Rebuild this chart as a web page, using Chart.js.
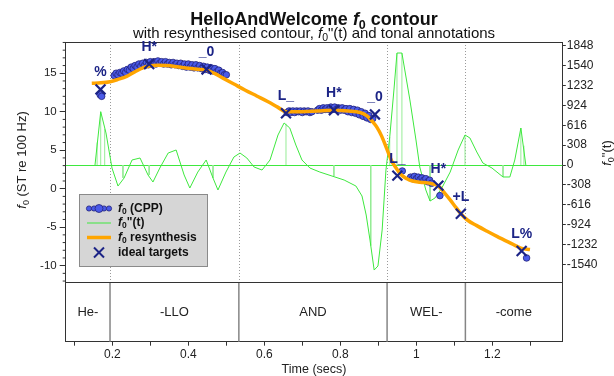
<!DOCTYPE html>
<html>
<head>
<meta charset="utf-8">
<script src="https://cdn.jsdelivr.net/npm/chart.js@4.4.1/dist/chart.umd.min.js"></script>
<style>
html,body{margin:0;padding:0;background:#ffffff;}
#wrap{width:614px;height:376px;}
</style>
</head>
<body>
<div id="wrap"><canvas id="c" width="614" height="376"></canvas></div>
<script>
const FONT = "'Liberation Sans', Arial, Helvetica, sans-serif";

// ---- annotation tier (words) ----
const tierBounds = [0.194, 0.533, 0.923, 1.129];
const tierLabels = ['He-', '-LLO', 'AND', 'WEL-', '-come'];

// ---- axis ticks ----
const xTickValues = [0.1, 0.2, 0.3, 0.4, 0.5, 0.6, 0.7, 0.8, 0.9, 1.0, 1.1, 1.2, 1.3];
const xTickLabels = ['', '0.2', '', '0.4', '', '0.6', '', '0.8', '', '1', '', '1.2', ''];
const leftTickValues = [-10, -5, 0, 5, 10, 15];
const leftTickLabels = ['-10', '-5', '0', '5', '10', '15'];
const leftMinorTicks = [-12, -11, -9, -8, -7, -6, -4, -3, -2, -1, 1, 2, 3, 4, 6, 7, 8, 9, 11, 12, 13, 14, 16, 17, 18, 19];
const rightTickValues = [1848, 1540, 1232, 924, 616, 308, 0, -308, -616, -924, -1232, -1540];
const rightTickLabels = ['1848', '1540', '1232', '924', '616', '308', '0', '-308', '-616', '-924', '-1232', '-1540'];

// ---- axis ranges ----
const X_MIN = 0.0774, X_MAX = 1.384;
const F0_MIN = -19.88, F0_MAX = 19.06, F0_PANEL_MIN = -12.16;
const D2_MIN = -2742, D2_MAX = 1909;

// ---- f0 (CPP) samples ----
const cppTimes = [
  0.168, 0.172,
  0.205, 0.210, 0.215, 0.220, 0.225, 0.230, 0.235, 0.240, 0.245, 0.250,
  0.255, 0.260, 0.265, 0.270, 0.275, 0.280, 0.285, 0.290, 0.295, 0.300,
  0.305, 0.310, 0.315, 0.320, 0.325, 0.330, 0.335, 0.340, 0.345, 0.350,
  0.355, 0.360, 0.365, 0.370, 0.375, 0.380, 0.385, 0.390, 0.395, 0.400,
  0.405, 0.410, 0.415, 0.420, 0.425, 0.430, 0.435, 0.440, 0.445, 0.450,
  0.455, 0.460, 0.465, 0.470, 0.475, 0.480, 0.485, 0.490, 0.495, 0.500,
  0.660, 0.665, 0.670, 0.675, 0.680, 0.685, 0.690, 0.695, 0.700, 0.705,
  0.710, 0.715, 0.720, 0.725, 0.740, 0.745, 0.750, 0.755, 0.760, 0.765,
  0.770, 0.775, 0.780, 0.785, 0.790, 0.795, 0.800, 0.805, 0.810, 0.815,
  0.820, 0.825, 0.830, 0.835, 0.840, 0.845, 0.850, 0.855, 0.860, 0.865,
  0.870, 0.875, 0.880, 0.885,
  0.963,
  0.985, 0.990, 0.995, 1.000, 1.005, 1.010, 1.015, 1.020, 1.025, 1.030, 1.035, 1.040,
  1.062, 1.290
];
const cppValues = [
  12.2, 12.0,
  14.7, 15.0, 14.8, 15.1, 15.0, 15.3, 15.1, 15.5, 15.4, 15.8,
  15.6, 16.0, 15.8, 16.2, 15.9, 16.3, 16.0, 16.4, 16.1, 16.5,
  16.2, 16.5, 16.2, 16.6, 16.3, 16.5, 16.2, 16.5, 16.2, 16.4,
  16.1, 16.4, 16.1, 16.3, 16.0, 16.3, 15.9, 16.2, 15.8, 16.2,
  15.8, 16.1, 15.7, 16.1, 15.7, 16.0, 15.6, 15.9, 15.5, 15.8,
  15.4, 15.7, 15.3, 15.6, 15.2, 15.4, 15.0, 15.1, 14.8, 14.8,
  9.9, 10.1, 9.9, 10.1, 9.9, 10.1, 10.0, 10.1, 9.9, 10.1,
  10.0, 10.1, 9.9, 10.0, 10.2, 10.4, 10.2, 10.5, 10.3, 10.5,
  10.3, 10.6, 10.3, 10.6, 10.3, 10.5, 10.2, 10.5, 10.2, 10.4,
  10.0, 10.4, 9.9, 10.3, 9.8, 10.2, 9.6, 10.0, 9.4, 9.8,
  9.2, 9.5, 9.0, 9.1,
  2.3,
  1.5, 1.3, 1.6, 1.3, 1.5, 1.2, 1.4, 1.1, 1.3, 0.9, 1.1, 0.7,
  -0.9, -9.0
];

// ---- f0 resynthesis ----
const resTimes = [
  0.146, 0.170, 0.194, 0.215, 0.238, 0.260, 0.280, 0.297, 0.320, 0.343,
  0.370, 0.400, 0.430, 0.448, 0.470, 0.490, 0.520, 0.550, 0.580, 0.610,
  0.635, 0.657, 0.680, 0.700, 0.740, 0.783, 0.820, 0.852, 0.870, 0.885,
  0.896, 0.909, 0.922, 0.935, 0.948, 0.960, 0.975, 0.990, 1.010, 1.036,
  1.058, 1.075, 1.089, 1.105, 1.117, 1.135, 1.159, 1.185, 1.212, 1.245,
  1.277, 1.299
];
const resValues = [
  13.7, 13.75, 13.9, 14.2, 14.6, 15.2, 15.7, 15.95, 16.05, 16.0,
  15.85, 15.65, 15.5, 15.4, 14.95, 14.4, 13.6, 12.8, 12.05, 11.3,
  10.6, 10.0, 10.0, 10.0, 10.1, 10.2, 10.1, 9.9, 9.45, 8.7,
  8.0, 6.8, 5.2, 3.6, 2.6, 1.8, 1.3, 1.0, 0.85, 0.7,
  0.35, -0.6, -1.45, -2.5, -3.25, -4.1, -4.8, -5.5, -6.2, -7.0,
  -7.75, -7.9
];

// ---- f0''(t) ----
const d2Times = [
  0.1545, 0.1695, 0.1834, 0.1992, 0.215, 0.231, 0.252, 0.273, 0.294, 0.307,
  0.325, 0.347, 0.368, 0.389, 0.404, 0.425, 0.447, 0.465, 0.478, 0.499,
  0.520, 0.536, 0.554, 0.573, 0.594, 0.615, 0.636, 0.652, 0.667, 0.683,
  0.699, 0.720, 0.746, 0.778, 0.810, 0.841, 0.857, 0.868, 0.878, 0.889,
  0.899, 0.910, 0.920, 0.930, 0.941, 0.949, 0.962, 0.983, 0.999, 1.009,
  1.025, 1.036, 1.049, 1.067, 1.089, 1.110, 1.128, 1.141, 1.159, 1.175,
  1.199, 1.228, 1.246, 1.259, 1.275, 1.288
];
const d2Values = [
  0, 827, 497, -47, -326, -202, 78, 109, -155, -264,
  -47, 186, 233, -155, -357, -109, 78, -202, -388, -109,
  124, 186, 109, -31, -78, 78, 466, 652, 574, 310,
  78, -47, -109, -171, -233, -326, -481, -776, -1164, -1630,
  -1567, -1009, -78, 435, 1164, 1738, 1738, 1009, 388, -31,
  -388, -559, -512, -357, -109, 233, 466, 419, 202, 31,
  -47, -186, -186, 78, 574, 0
];
// stems of f0''(t) at sampled instants
const stemTimes = [0.160, 0.1695, 0.180, 0.228, 0.297, 0.465, 0.657, 0.783, 0.880, 0.930, 0.949, 0.962, 1.036, 1.128, 1.228, 1.275, 1.283];
const stemValues = [350, 827, 560, -200, -155, -202, 640, -171, -1250, 435, 1738, 1738, -559, 466, -186, 574, 300];

// ---- ideal targets ----
const targetTimes = [0.169, 0.297, 0.448, 0.657, 0.783, 0.891, 0.950, 1.058, 1.117, 1.277];
const targetValues = [12.9, 16.2, 15.5, 9.8, 10.2, 9.65, 1.7, 0.4, -3.25, -8.1];
const targetLabels = ['%', 'H*', '_0', 'L_', 'H*', '_0', 'L_', 'H*', '+L', 'L%'];

// ---- colours ----
const C_ORANGE = '#ffa500', C_GREEN = '#3ee83e', C_STEM = '#96ec96';
const C_DOT = '#4a5ae8', C_DOT_EDGE = '#23237a', C_NAVY = '#1c2486';

const xy = (ts, vs) => ts.map((t, i) => ({x: t, y: vs[i]}));
const stemData = [];
stemTimes.forEach((t, i) => { stemData.push({x: t, y: 0}, {x: t, y: stemValues[i]}, {x: t, y: null}); });

function drawRuns(ctx, parts, x, y, align) {
  let w = 0;
  parts.forEach(p => { ctx.font = p.f; p.w = ctx.measureText(p.t).width; w += p.w; });
  let cx = align === 'center' ? x - w / 2 : (align === 'right' ? x - w : x);
  ctx.textAlign = 'left';
  parts.forEach(p => { ctx.font = p.f; ctx.fillText(p.t, cx, y + (p.dy || 0)); cx += p.w; });
}
function seg(ctx, x1, y1, x2, y2) { ctx.beginPath(); ctx.moveTo(x1, y1); ctx.lineTo(x2, y2); ctx.stroke(); }

const decor = {
  id: 'decor',
  beforeDatasetsDraw(chart) {
    const {ctx, chartArea: ca, scales} = chart;
    const x = scales.x, y = scales.y, y2 = scales.y2;
    const pb = y.getPixelForValue(F0_PANEL_MIN);
    ctx.save();
    ctx.lineWidth = 1;
    ctx.setLineDash([1, 2]);
    ctx.strokeStyle = '#9a9a9a';
    tierBounds.forEach(b => { const px = Math.round(x.getPixelForValue(b)) + 0.5; seg(ctx, px, ca.top, px, pb); });
    ctx.setLineDash([]);
    ctx.strokeStyle = C_GREEN;
    const z = Math.round(y2.getPixelForValue(0)) + 0.5;
    seg(ctx, ca.left, z, ca.right, z);
    ctx.strokeStyle = '#858585'; ctx.lineWidth = 1.5;
    tierBounds.forEach(b => { const px = x.getPixelForValue(b); seg(ctx, px, pb, px, ca.bottom); });
    ctx.strokeStyle = '#333'; ctx.lineWidth = 1;
    seg(ctx, ca.left, Math.round(pb) + 0.5, ca.right, Math.round(pb) + 0.5);
    seg(ctx, ca.left, Math.round(ca.top) + 0.5, ca.right, Math.round(ca.top) + 0.5);
    leftMinorTicks.forEach(v => { const py = y.getPixelForValue(v); seg(ctx, ca.left - 3, py, ca.left, py); });
    // tier words
    ctx.fillStyle = '#222'; ctx.font = '13px ' + FONT; ctx.textAlign = 'center'; ctx.textBaseline = 'middle';
    const edges = [X_MIN, ...tierBounds, X_MAX];
    tierLabels.forEach((lab, i) => {
      const cx = (x.getPixelForValue(edges[i]) + x.getPixelForValue(edges[i + 1])) / 2;
      ctx.fillText(lab, cx, (pb + ca.bottom) / 2 + 0.5);
    });
    ctx.restore();
  },
  afterDatasetsDraw(chart) {
    const {ctx, chartArea: ca, scales} = chart;
    const x = scales.x, y = scales.y;
    ctx.save();
    // target labels
    ctx.fillStyle = C_NAVY; ctx.font = 'bold 14px ' + FONT; ctx.textAlign = 'center'; ctx.textBaseline = 'alphabetic';
    targetLabels.forEach((lab, i) => {
      ctx.fillText(lab, x.getPixelForValue(targetTimes[i]), y.getPixelForValue(targetValues[i]) - 13);
    });
    // titles
    ctx.fillStyle = '#111'; ctx.textBaseline = 'alphabetic';
    const mid = (ca.left + ca.right) / 2;
    drawRuns(ctx, [
      {t: 'HelloAndWelcome ', f: 'bold 18px ' + FONT},
      {t: 'f', f: 'italic bold 18px ' + FONT},
      {t: '0', f: 'bold 12.5px ' + FONT, dy: 4},
      {t: ' contour', f: 'bold 18px ' + FONT}
    ], mid, 24.5, 'center');
    drawRuns(ctx, [
      {t: 'with resynthesised contour, ', f: '15px ' + FONT},
      {t: 'f', f: 'italic 15px ' + FONT},
      {t: '0', f: '10.5px ' + FONT, dy: 3.5},
      {t: '"(t) and tonal annotations', f: '15px ' + FONT}
    ], mid, 37.5, 'center');
    // x axis title
    ctx.fillStyle = '#222';
    drawRuns(ctx, [{t: 'Time (secs)', f: '12.5px ' + FONT}], mid, 373, 'center');
    // left axis title
    ctx.save();
    ctx.translate(26, 160); ctx.rotate(-Math.PI / 2);
    drawRuns(ctx, [
      {t: 'f', f: 'italic 13px ' + FONT},
      {t: '0', f: '9px ' + FONT, dy: 3},
      {t: ' (ST re 100 Hz)', f: '13px ' + FONT}
    ], 0, 0, 'center');
    ctx.restore();
    // right axis title
    ctx.save();
    ctx.translate(611, 153); ctx.rotate(-Math.PI / 2);
    drawRuns(ctx, [
      {t: 'f', f: 'italic 13px ' + FONT},
      {t: '0', f: '9px ' + FONT, dy: 3},
      {t: '"(t)', f: '13px ' + FONT}
    ], 0, 0, 'center');
    ctx.restore();
    // legend
    const lx = 79.5, ly = 194.5, lw = 128, lh = 72;
    ctx.fillStyle = '#d6d6d6'; ctx.fillRect(lx, ly, lw, lh);
    ctx.strokeStyle = '#8a8a8a'; ctx.lineWidth = 1; ctx.strokeRect(lx, ly, lw, lh);
    const rows = [208.5, 223, 237.5, 252.5];
    const sx1 = 87, sx2 = 111, tx = 118;
    // dots
    [[89, 2.6], [94, 2.6], [104, 2.6], [109, 2.6], [99, 4]].forEach(([px, r]) => {
      ctx.beginPath(); ctx.arc(px, rows[0], r, 0, Math.PI * 2);
      ctx.fillStyle = C_DOT; ctx.fill(); ctx.strokeStyle = C_DOT_EDGE; ctx.lineWidth = 0.8; ctx.stroke();
    });
    ctx.strokeStyle = C_GREEN; ctx.lineWidth = 1; seg(ctx, sx1, rows[1], sx2, rows[1]);
    ctx.strokeStyle = C_ORANGE; ctx.lineWidth = 3.5; seg(ctx, sx1, rows[2], sx2, rows[2]);
    ctx.strokeStyle = C_NAVY; ctx.lineWidth = 2;
    seg(ctx, 94, rows[3] - 5, 104, rows[3] + 5); seg(ctx, 94, rows[3] + 5, 104, rows[3] - 5);
    ctx.fillStyle = '#111'; ctx.textBaseline = 'middle';
    drawRuns(ctx, [{t: 'f', f: 'italic bold 12px ' + FONT}, {t: '0', f: 'bold 8.5px ' + FONT, dy: 3}, {t: ' (CPP)', f: 'bold 12px ' + FONT}], tx, rows[0], 'left');
    drawRuns(ctx, [{t: 'f', f: 'italic bold 12px ' + FONT}, {t: '0', f: 'bold 8.5px ' + FONT, dy: 3}, {t: '"(t)', f: 'bold 12px ' + FONT}], tx, rows[1], 'left');
    drawRuns(ctx, [{t: 'f', f: 'italic bold 12px ' + FONT}, {t: '0', f: 'bold 8.5px ' + FONT, dy: 3}, {t: ' resynthesis', f: 'bold 12px ' + FONT}], tx, rows[2], 'left');
    drawRuns(ctx, [{t: 'ideal targets', f: 'bold 12px ' + FONT}], tx, rows[3], 'left');
    ctx.restore();
  }
};

const tickFont = (s) => ({family: FONT, size: s});

new Chart(document.getElementById('c'), {
  type: 'scatter',
  data: {
    datasets: [
      {type: 'scatter', label: 'ideal targets', data: xy(targetTimes, targetValues), yAxisID: 'y',
       pointStyle: 'crossRot', pointRadius: 7, pointBorderWidth: 2.2, borderColor: C_NAVY, backgroundColor: C_NAVY, order: 0},
      {type: 'line', label: 'f0 resynthesis', data: xy(resTimes, resValues), yAxisID: 'y',
       borderColor: C_ORANGE, borderWidth: 3.5, pointRadius: 0, cubicInterpolationMode: 'monotone', fill: false, order: 1},
      {type: 'scatter', label: 'f0 (CPP)', data: xy(cppTimes, cppValues), yAxisID: 'y',
       pointRadius: 3.3, pointBorderWidth: 0.8, backgroundColor: C_DOT, borderColor: C_DOT_EDGE, order: 2},
      {type: 'line', label: "f0''(t)", data: xy(d2Times, d2Values), yAxisID: 'y2',
       borderColor: C_GREEN, borderWidth: 1, pointRadius: 0, tension: 0, fill: false, order: 3},
      {type: 'line', label: "f0''(t) stems", data: stemData, yAxisID: 'y2', spanGaps: false,
       borderColor: C_STEM, borderWidth: 1, pointRadius: 0, tension: 0, fill: false, order: 4}
    ]
  },
  options: {
    responsive: false,
    animation: false,
    devicePixelRatio: 1,
    layout: {padding: {top: 42, left: 0, right: 0, bottom: 0}},
    plugins: {legend: {display: false}, tooltip: {enabled: false}, title: {display: false}},
    events: [],
    scales: {
      x: {
        type: 'linear', position: 'bottom', min: X_MIN, max: X_MAX, offset: false,
        afterBuildTicks: s => { s.ticks = xTickValues.map(v => ({value: v})); },
        afterFit: s => { s.height = 34.3; },
        ticks: {autoSkip: false, maxRotation: 0, padding: 2, color: '#222', font: tickFont(12),
                callback: (v, i) => xTickLabels[i]},
        grid: {display: true, drawOnChartArea: false, drawTicks: true, tickLength: 4, color: '#333', offset: false},
        border: {display: true, color: '#333', width: 1}
      },
      y: {
        type: 'linear', position: 'left', min: F0_MIN, max: F0_MAX,
        afterBuildTicks: s => { s.ticks = leftTickValues.map(v => ({value: v})); },
        afterFit: s => { s.width = 65.7; },
        ticks: {autoSkip: false, padding: 3, color: '#222', font: tickFont(11.5),
                callback: (v, i) => leftTickLabels[i]},
        grid: {display: true, drawOnChartArea: false, drawTicks: true, tickLength: 6, color: '#333'},
        border: {display: true, color: '#333', width: 1}
      },
      y2: {
        type: 'linear', position: 'right', min: D2_MIN, max: D2_MAX,
        afterBuildTicks: s => { s.ticks = rightTickValues.map(v => ({value: v})); },
        afterFit: s => { s.width = 51.7; },
        ticks: {autoSkip: false, padding: 1, color: '#222', font: tickFont(12),
                callback: (v, i) => rightTickLabels[i]},
        grid: {display: true, drawOnChartArea: false, drawTicks: true, tickLength: 3.5, color: '#333'},
        border: {display: true, color: '#333', width: 1}
      }
    }
  },
  plugins: [decor]
});
</script>
</body>
</html>
